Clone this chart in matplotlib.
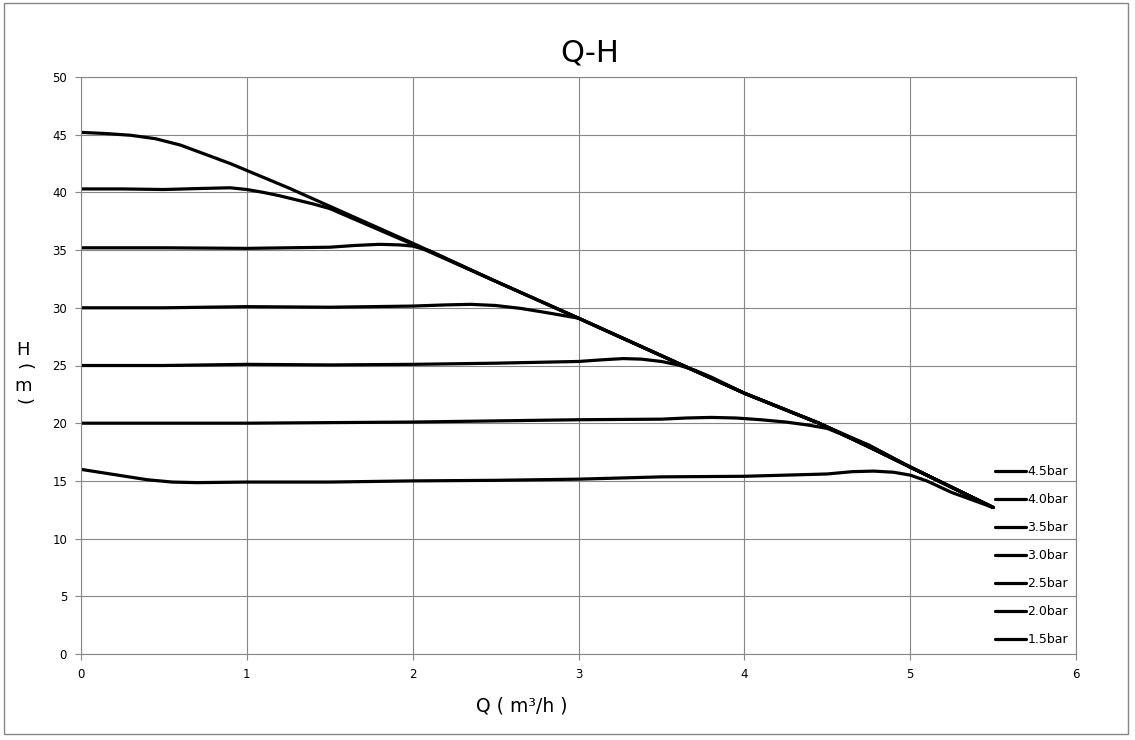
import matplotlib.pyplot as plt
from matplotlib.patches import Rectangle

plt.rcParams['font.family'] = ['DejaVu Sans', 'Noto Sans CJK SC']

# pump curves (Q in m3/h, H in m)
q_45 = [0, 0.15, 0.3, 0.45, 0.6, 0.75, 0.9, 1.0, 1.25, 1.5, 2.0, 2.5, 3.0, 3.5, 4.0, 4.45, 4.75, 5.0, 5.5]
h_45 = [45.2, 45.1, 44.95, 44.65, 44.1, 43.3, 42.5, 41.9, 40.4, 38.8, 35.6, 32.3, 29.1, 25.85, 22.6, 20.0, 18.0, 16.2, 12.7]

q_40 = [0, 0.25, 0.5, 0.75, 0.9, 1.0, 1.1, 1.2, 1.3, 1.4, 1.5, 2.0, 2.5, 3.0, 3.5, 4.0, 4.45, 4.75, 5.0, 5.5]
h_40 = [40.3, 40.3, 40.25, 40.35, 40.4, 40.25, 40.0, 39.7, 39.35, 39.0, 38.6, 35.5, 32.3, 29.1, 25.85, 22.6, 20.0, 18.1, 16.2, 12.7]

q_35 = [0, 0.5, 1.0, 1.5, 1.65, 1.8, 1.92, 2.0, 2.1, 2.5, 3.0, 3.5, 4.0, 4.45, 4.75, 5.0, 5.5]
h_35 = [35.2, 35.2, 35.15, 35.25, 35.4, 35.5, 35.45, 35.35, 34.95, 32.3, 29.1, 25.85, 22.6, 20.0, 17.95, 16.2, 12.7]

q_30 = [0, 0.5, 1.0, 1.5, 2.0, 2.2, 2.35, 2.5, 2.65, 2.8, 2.9, 3.0, 3.5, 4.0, 4.45, 4.75, 5.0, 5.5]
h_30 = [30.0, 30.0, 30.1, 30.05, 30.15, 30.25, 30.3, 30.2, 29.95, 29.6, 29.35, 29.1, 25.85, 22.6, 20.0, 17.95, 16.2, 12.7]

q_25 = [0, 0.5, 1.0, 1.5, 2.0, 2.5, 3.0, 3.15, 3.27, 3.38, 3.5, 3.6, 3.7, 3.8, 4.0, 4.45, 4.75, 5.0, 5.5]
h_25 = [25.0, 25.0, 25.1, 25.05, 25.1, 25.2, 25.35, 25.5, 25.6, 25.55, 25.35, 25.05, 24.6, 24.0, 22.6, 20.0, 17.95, 16.2, 12.7]

q_20 = [0, 0.5, 1.0, 1.5, 2.0, 2.5, 3.0, 3.5, 3.65, 3.8, 3.95, 4.1, 4.25, 4.38, 4.5, 4.75, 5.0, 5.5]
h_20 = [20.0, 20.0, 20.0, 20.05, 20.1, 20.2, 20.3, 20.35, 20.45, 20.5, 20.45, 20.3, 20.1, 19.85, 19.55, 18.1, 16.2, 12.7]

q_15 = [0, 0.2, 0.4, 0.55, 0.7, 1.0, 1.5, 2.0, 2.5, 3.0, 3.5, 4.0, 4.5, 4.65, 4.78, 4.9, 5.0, 5.1, 5.25, 5.5]
h_15 = [16.0, 15.55, 15.1, 14.9, 14.85, 14.9, 14.9, 15.0, 15.05, 15.15, 15.35, 15.4, 15.6, 15.8, 15.85, 15.75, 15.5, 15.0, 14.0, 12.7]

series = [
    ('4.5bar', q_45, h_45),
    ('4.0bar', q_40, h_40),
    ('3.5bar', q_35, h_35),
    ('3.0bar', q_30, h_30),
    ('2.5bar', q_25, h_25),
    ('2.0bar', q_20, h_20),
    ('1.5bar', q_15, h_15),
]

GRID = '#878787'

fig = plt.figure(figsize=(11.35, 7.4), dpi=100)
ax = fig.add_axes([81/1135, 86/740, 995/1135, 577/740])

for label, q, h in series:
    ax.plot(q, h, color='black', lw=2.3, label=label,
            solid_capstyle='round', solid_joinstyle='round')

ax.set_xlim(0, 6)
ax.set_ylim(0, 50)
ax.set_xticks(range(0, 7))
ax.set_yticks(range(0, 51, 5))
ax.grid(True, color=GRID, lw=0.8)
for s in ax.spines.values():
    s.set_color(GRID)
    s.set_linewidth(0.8)
ax.tick_params(colors=GRID, labelcolor='black', labelsize=8.5, length=4, width=0.8)
ax.tick_params(axis='y', pad=6)
ax.tick_params(axis='x', pad=6)

ax.legend(loc='upper left', bbox_to_anchor=(995/1135, 1 - 465/740),
          bbox_transform=fig.transFigure, frameon=False, fontsize=9,
          handlelength=2.45, handletextpad=0.15, labelspacing=1.2,
          borderpad=0, borderaxespad=0)

fig.text(590/1135, 1 - 53/740, 'Q-H', fontsize=22, ha='center', va='center')

# vertical y label: H, rotated brackets around m
fig.text(23/1135, 1 - 350/740, 'H', fontsize=13, ha='center', va='center')
fig.text(23/1135, 1 - 367/740, '(', fontsize=13, ha='center', va='center', rotation=-90)
fig.text(23/1135, 1 - 386/740, 'm', fontsize=13, ha='center', va='center')
fig.text(23/1135, 1 - 401/740, ')', fontsize=13, ha='center', va='center', rotation=-90)

fig.text(522/1135, 1 - 706/740, 'Q ( m³/h )', fontsize=13.5, ha='center', va='center')

fig.patches.append(Rectangle((4/1135, 6/740), 1124/1135, 731/740, transform=fig.transFigure,
                             fill=False, edgecolor=GRID, lw=1))

fig.savefig('out.png', dpi=100, facecolor='white')
